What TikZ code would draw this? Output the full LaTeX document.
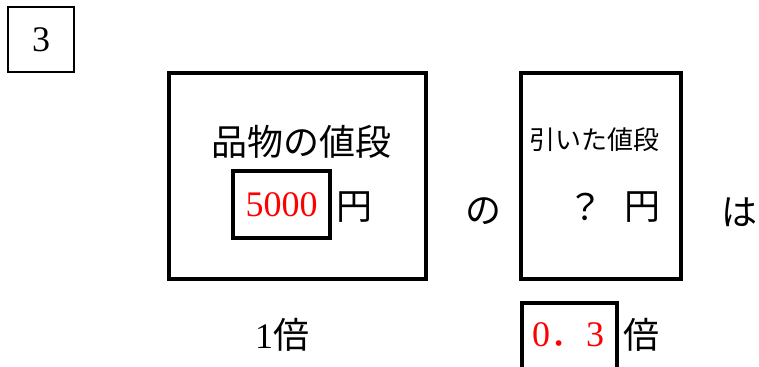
\documentclass[tikz,border=0pt]{standalone}
\usepackage{fontspec}
\newfontfamily\jp{Noto Sans CJK JP}
\newfontfamily\digits{Liberation Serif}

\begin{document}
\begin{tikzpicture}[x=0.75pt, y=-0.75pt,
  frame/.style={draw, line width=2.3pt, inner sep=0pt},
  jtxt/.style={font=\jp\fontsize{27}{32}\selectfont, inner sep=0pt},
  small/.style={font=\jp\fontsize{19.5}{24}\selectfont, inner sep=0pt},
  num/.style={font=\digits\fontsize{27}{32}\selectfont, inner sep=0pt}]
  \useasboundingbox (0,0) rectangle (759,367);
  \clip (0,0) rectangle (759,367);
  \node[frame, num, line width=2pt, minimum width=49.5pt, minimum height=48.75pt] (qnum) at (41,39.5) {3};
  \node[frame, minimum width=192.75pt, minimum height=154.5pt] (price) at (297.5,176) {};
  \node[jtxt] (pricelabel) at (301,142) {品物の値段};
  \node[frame, num, text=red, minimum width=72.75pt, minimum height=50.25pt] (pricebox) at (281.5,204.5) {5000};
  \node[jtxt] (yen1) at (354,207) {円};
  \node[jtxt] (no) at (483,211) {の};
  \node[frame, minimum width=120pt, minimum height=154.5pt] (disc) at (601,176) {};
  \node[small] (disclabel) at (594,140) {引いた値段};
  \node[jtxt] (q) at (585,207) {？};
  \node[jtxt] (yen2) at (642,207) {円};
  \node[jtxt] (wa) at (739,212) {は};
  \node[num] (one) at (282,335) {1{\jp 倍}};
  \node[frame, minimum width=71.25pt, minimum height=72.75pt] (ratebox) at (569.5,351.5) {};
  \node[num, text=red] (rate) at (568,335) {0{\jp ．}3};
  \node[jtxt] (bai) at (641,335) {倍};
\end{tikzpicture}
\end{document}
